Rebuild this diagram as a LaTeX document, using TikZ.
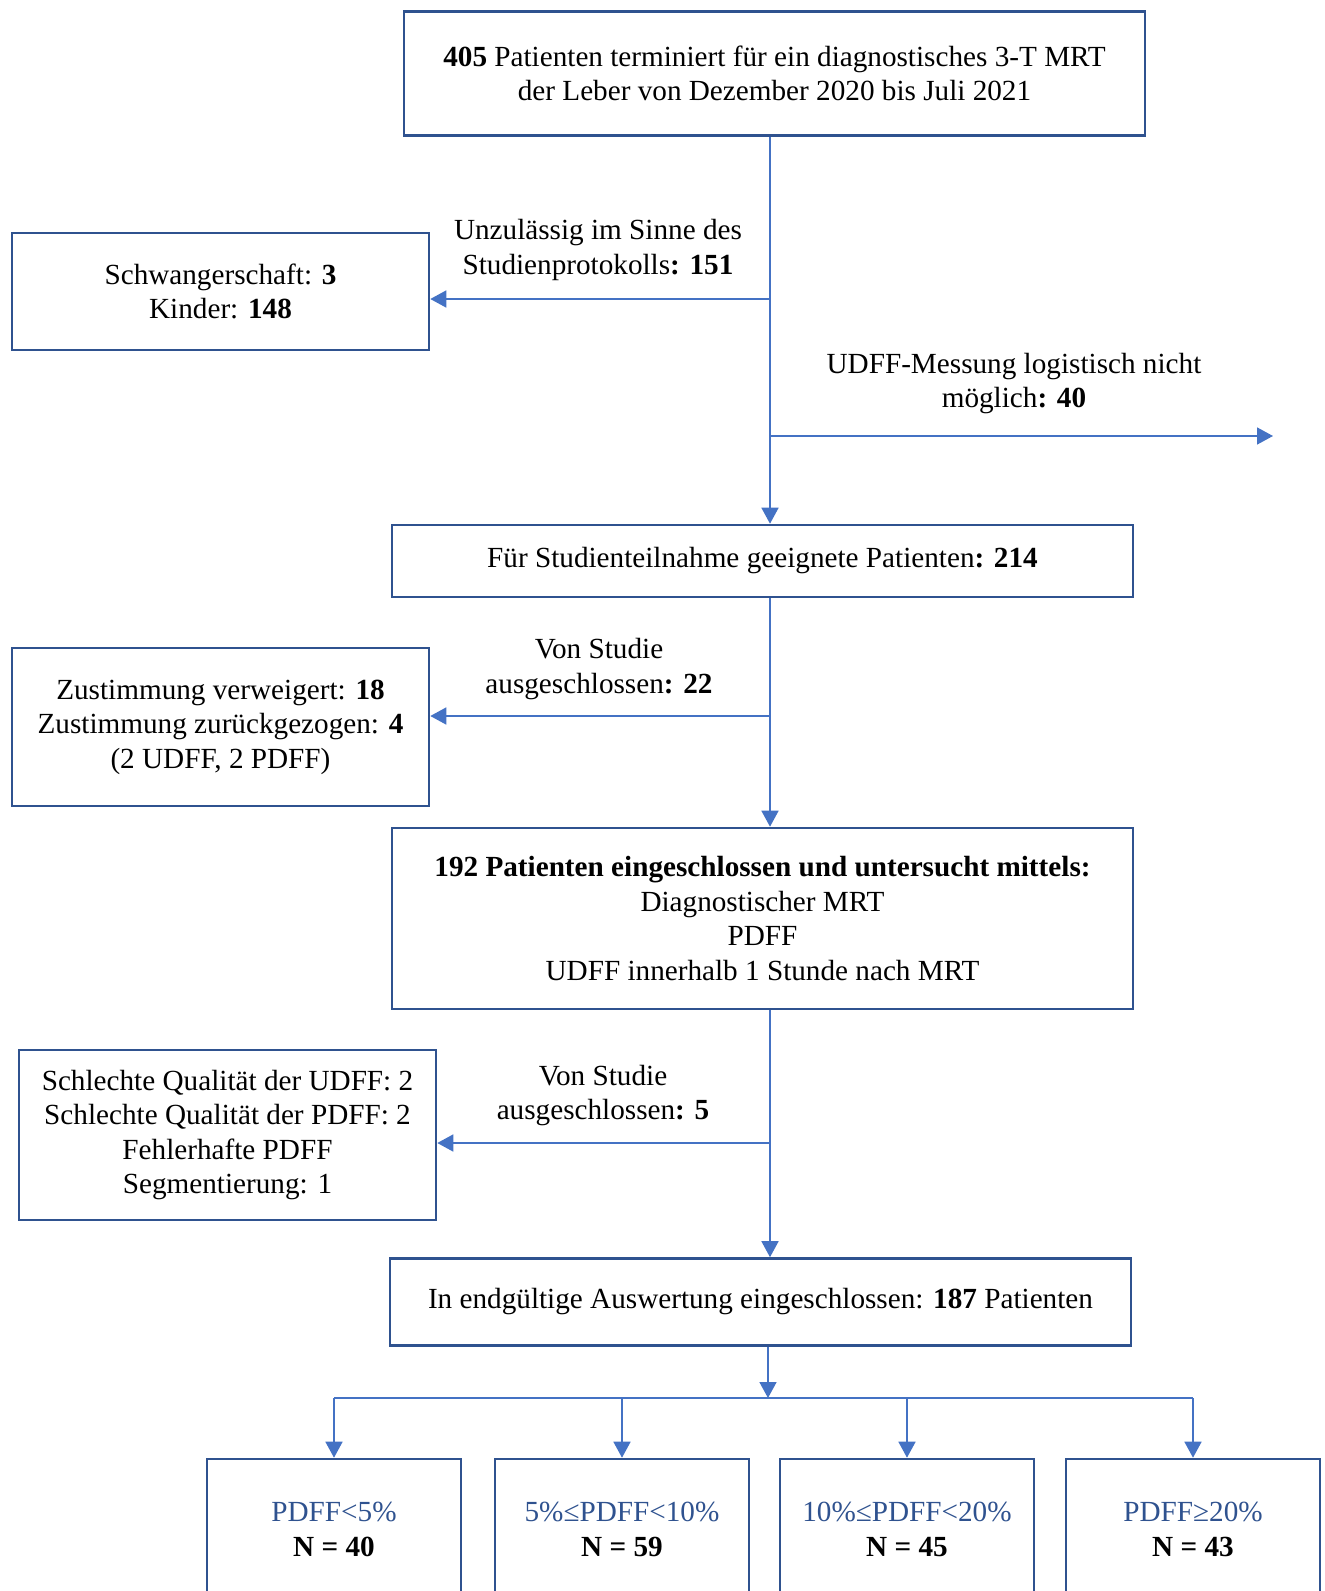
\documentclass[tikz,border=0pt]{standalone}
\usepackage{fontspec}
\setmainfont{Liberation Serif}
\usetikzlibrary{arrows.meta}
\definecolor{BoxBlue}{RGB}{47,82,143}
\definecolor{LineBlue}{RGB}{68,114,196}

\begin{document}
\begin{tikzpicture}[
          x=0.5pt, y=-0.5pt,
          box/.style={draw=BoxBlue, line width=1.3pt, inner sep=0pt, align=center, font=\fontsize{14.6}{17.25}\selectfont},
          note/.style={inner sep=0pt, align=center, font=\fontsize{14.6}{17.25}\selectfont},
          group/.style={box, minimum width=127pt, minimum height=70.5pt},
          link/.style={LineBlue, line width=0.8pt, -{Triangle[length=8pt, width=8.5pt]}},
          branch/.style={LineBlue, line width=0.8pt}
        ]
          \useasboundingbox (0,0) rectangle (1325,1591);

          % boxes of the main path
          \node (start) [box, minimum width=370.5pt, minimum height=62pt] at (774.5,73.5)
            {\textbf{405} Patienten terminiert für ein diagnostisches 3-T MRT\\der Leber von Dezember 2020 bis Juli 2021};
          \node (eligible) [box, minimum width=370.5pt, minimum height=36pt] at (762.5,561)
            {Für Studienteilnahme geeignete Patienten\textbf{: 214}};
          \node (included) [box, minimum width=370.5pt, minimum height=90.5pt] at (762.5,918.5)
            {\textbf{192 Patienten eingeschlossen und untersucht mittels:}\\Diagnostischer MRT\\PDFF\\UDFF innerhalb 1 Stunde nach MRT};
          \node (final) [box, minimum width=370.5pt, minimum height=43.5pt] at (760.5,1302)
            {In endgültige Auswertung eingeschlossen: \textbf{187} Patienten};

          % excluded patients
          \node (excl1) [box, minimum width=208.5pt, minimum height=58.5pt] at (220.5,291.5)
            {Schwangerschaft: \textbf{3}\\Kinder: \textbf{148}};
          \node (excl2) [box, minimum width=208.5pt, minimum height=79pt] at (220.5,727)
            {Zustimmung verweigert: \textbf{18}\\Zustimmung zurückgezogen: \textbf{4}\\(2 UDFF, 2 PDFF)};
          \node (excl3) [box, minimum width=208.5pt, minimum height=85pt] at (227.5,1135)
            {Schlechte Qualität der UDFF: 2\\Schlechte Qualität der PDFF: 2\\Fehlerhafte PDFF\\Segmentierung: 1};

          \node (reason1) [note] at (598,250) {Unzulässig im Sinne des\\Studienprotokolls\textbf{: 151}};
          \node (reason2) [note] at (1014,383.5) {UDFF-Messung logistisch nicht\\möglich\textbf{: 40}};
          \node (reason3) [note] at (599,669) {Von Studie\\ausgeschlossen\textbf{: 22}};
          \node (reason4) [note] at (603,1095.5) {Von Studie\\ausgeschlossen\textbf{: 5}};

          % PDFF groups
          \node (g1) [group] at (334,1529.5) {{\color{BoxBlue}PDFF<5\%}\\\textbf{N = 40}};
          \node (g2) [group] at (622,1529.5) {{\color{BoxBlue}5\%≤PDFF<10\%}\\\textbf{N = 59}};
          \node (g3) [group] at (907,1529.5) {{\color{BoxBlue}10\%≤PDFF<20\%}\\\textbf{N = 45}};
          \node (g4) [group] at (1193,1529.5) {{\color{BoxBlue}PDFF≥20\%}\\\textbf{N = 43}};

          \coordinate (j1) at (770,299);
          \coordinate (j2) at (770,436);
          \coordinate (udffend) at (1273,436);
          \coordinate (j3) at (770,716);
          \coordinate (j4) at (770,1143);
          \coordinate (j5) at (768,1398);

          \draw[link] (start.south -| j1) -- (eligible.north -| j1);
          \draw[link] (j1) -- (excl1.east |- j1);
          \draw[link] (j2) -- (udffend);
          \draw[link] (eligible.south -| j3) -- (included.north -| j3);
          \draw[link] (j3) -- (excl2.east |- j3);
          \draw[link] (included.south -| j4) -- (final.north -| j4);
          \draw[link] (j4) -- (excl3.east |- j4);
          \draw[link] (final.south -| j5) -- (j5);
          \draw[branch] (g1.north |- j5) -- (g4.north |- j5);
          \foreach \g in {g1, g2, g3, g4}
            \draw[link] (\g.north |- j5) -- (\g.north);
        \end{tikzpicture}
\end{document}
